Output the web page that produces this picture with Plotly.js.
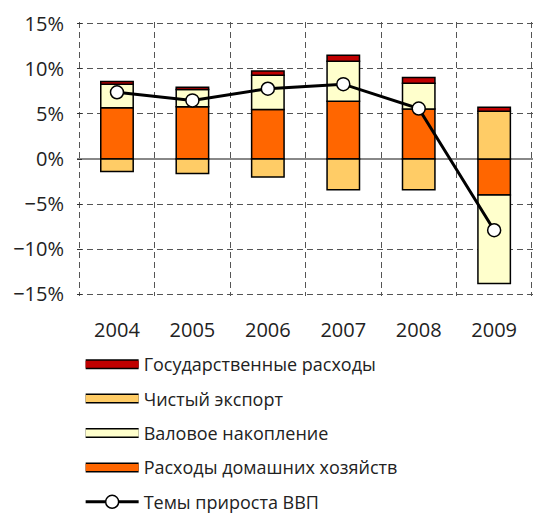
<!DOCTYPE html>
<html>
<head>
<meta charset="utf-8">
<script src="https://cdn.plot.ly/plotly-3.0.1.min.js"></script>
<style>body{margin:0;background:#fff}</style>
</head>
<body>
<div id="chart" style="width:533px;height:520px"></div>
<script>
// values in % of GDP growth
var years = ['2004', '2005', '2006', '2007', '2008', '2009']
var household = [5.7, 5.8, 5.5, 6.4, 5.55, -4.0]
var accumulation = [2.6, 1.9, 3.8, 4.45, 2.85, -9.8]
var netExport = [-1.4, -1.6, -2.0, -3.4, -3.4, 5.3]
var government = [0.3, 0.25, 0.45, 0.65, 0.65, 0.45]
var gdpGrowth = [7.4, 6.5, 7.8, 8.3, 5.6, -7.9]

var names = ['Государственные расходы', 'Чистый экспорт', 'Валовое накопление', 'Расходы домашних хозяйств']
var colors = ['#c00000', '#ffcc66', '#ffffcc', '#ff6600']
var gdpName = 'Темы прироста ВВП'

function barTrace(y, i) {
  return {
    x: years, y: y, name: names[i], type: 'bar', showlegend: false,
    marker: {color: colors[i], line: {color: '#000', width: 1.5}}
  }
}

var data = [
  barTrace(household, 3),
  barTrace(accumulation, 2),
  barTrace(netExport, 1),
  barTrace(government, 0),
  {
    x: years, y: gdpGrowth, name: gdpName, type: 'scatter', mode: 'lines+markers',
    line: {color: '#000', width: 3},
    marker: {color: '#fff', size: 13, line: {color: '#000', width: 1.5}},
    legendrank: 5, legendgroup: 'g5'
  }
]

// wide legend swatches: black band in legend, coloured band on top in legend2
names.forEach(function (n, i) {
  data.push({x: [null], y: [null], type: 'scatter', mode: 'lines', name: n,
    line: {color: '#000', width: 10}, legend: 'legend', legendrank: i + 1, legendgroup: 'g' + i, hoverinfo: 'skip'})
  data.push({x: [null], y: [null], type: 'scatter', mode: 'lines', name: ' ',
    line: {color: colors[i], width: 7}, legend: 'legend2', legendrank: i + 1, legendgroup: 'h' + i, hoverinfo: 'skip'})
})
// blank fifth row so both legends have the same height
data.push({x: [null], y: [null], type: 'scatter', mode: 'lines', name: ' ',
  line: {color: 'rgba(0,0,0,0)', width: 1}, legend: 'legend2', legendrank: 5, legendgroup: 'h4', hoverinfo: 'skip'})

var grid = {showgrid: true, griddash: '6px,4px', gridcolor: '#555', gridwidth: 1}
var legendBase = {x: 0.008, y: -0.8175, xanchor: 'left', yanchor: 'bottom', itemwidth: 53,
  tracegroupgap: 8, font: {size: 18}, bgcolor: 'rgba(0,0,0,0)'}

var layout = {
  width: 533, height: 520,
  margin: {l: 77, r: 0, t: 22, b: 224, autoexpand: false},
  barmode: 'relative', bargap: 0.57,
  font: {family: 'Open Sans', size: 20, color: '#222'},
  plot_bgcolor: '#fff', paper_bgcolor: '#fff',
  xaxis: Object.assign({type: 'category', tickson: 'boundaries', ticks: '', showline: false,
    range: [-0.53, 5.515], ticklabelstandoff: 20, zeroline: false}, grid),
  yaxis: Object.assign({range: [-15.2, 15.2], dtick: 5, ticksuffix: '%', ticks: 'inside',
    ticklen: 5, tickcolor: '#333', ticklabelstandoff: 12,
    zeroline: true, zerolinecolor: '#888', zerolinewidth: 1.5}, grid),
  showlegend: true,
  legend: Object.assign({}, legendBase),
  legend2: Object.assign({}, legendBase)
}

Plotly.newPlot('chart', data, layout, {displayModeBar: false})
</script>
</body>
</html>
